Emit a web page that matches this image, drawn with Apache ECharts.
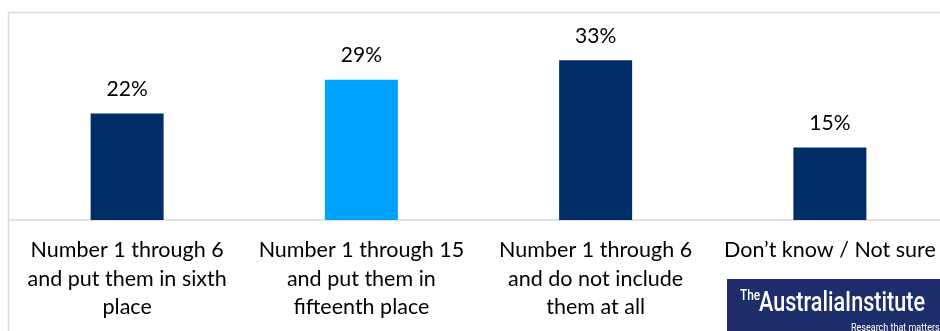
<!DOCTYPE html>
<html>
<head>
<meta charset="utf-8">
<script src="https://cdn.jsdelivr.net/npm/echarts@6/dist/echarts.min.js"></script>
<style>
  html, body { margin: 0; padding: 0; background: #ffffff; overflow: hidden; width: 940px; height: 331px; }
  #chart { width: 960px; height: 331px; }
</style>
</head>
<body>
<div id="chart"></div>
<script>
// Survey answers: how the candidate should be ranked
const categories = [
  'Number 1 through 6\nand put them in sixth\nplace',
  'Number 1 through 15\nand put them in\nfifteenth place',
  'Number 1 through 6\nand do not include\nthem at all',
  'Don\u2019t know / Not sure'
];
const shares = [22, 29, 33, 15];
const barColors = ['#002D66', '#00A2FF', '#002D66', '#002D66'];

const FONT = 'Lato, "Open Sans", sans-serif';

const chart = echarts.init(document.getElementById('chart'), null, { renderer: 'canvas' });

chart.setOption({
  animation: false,
  backgroundColor: '#ffffff',
  grid: { left: 10, width: 937, top: 12, height: 208 },
  xAxis: {
    type: 'category',
    data: categories,
    axisLine: { show: true, lineStyle: { color: '#d9d9d9', width: 1.5 } },
    axisTick: { show: false },
    axisLabel: {
      interval: 0,
      color: '#000000',
      fontFamily: FONT,
      fontSize: 21.5,
      lineHeight: 28.5,
      margin: 16,
      align: 'center'
    }
  },
  yAxis: {
    type: 'value',
    min: 0,
    max: 43,
    show: false,
    splitLine: { show: false }
  },
  series: [{
    type: 'bar',
    barWidth: 73,
    data: shares.map((v, i) => ({ value: v, itemStyle: { color: barColors[i] } })),
    label: {
      show: true,
      position: 'top',
      distance: 14,
      formatter: '{c}%',
      color: '#000000',
      fontFamily: FONT,
      fontSize: 21
    }
  }],
  graphic: [
    // outer frame of the chart area
    { type: 'line', shape: { x1: 8, y1: 12.5, x2: 960, y2: 12.5 }, style: { stroke: '#d9d9d9', lineWidth: 1.5 } },
    { type: 'line', shape: { x1: 8.5, y1: 12, x2: 8.5, y2: 331 }, style: { stroke: '#d9d9d9', lineWidth: 1.5 } },
    // institute badge
    { type: 'rect', shape: { x: 727, y: 279, width: 233, height: 52 }, style: { fill: '#1E2E6C' } },
    { type: 'text', x: 740, y: 296, scaleX: 0.85, style: { text: 'The', fill: '#ffffff', font: '500 14px Roboto, sans-serif', textVerticalAlign: 'middle' } },
    { type: 'text', x: 759, y: 304, scaleX: 0.8, style: { text: 'AustraliaInstitute', fill: '#ffffff', font: '500 27px Roboto, sans-serif', textVerticalAlign: 'middle' } },
    { type: 'text', x: 851, y: 328, scaleX: 0.9, style: { text: 'Research that matters', fill: '#ffffff', font: '10px Roboto, sans-serif', textVerticalAlign: 'middle' } }
  ]
});
</script>
</body>
</html>
